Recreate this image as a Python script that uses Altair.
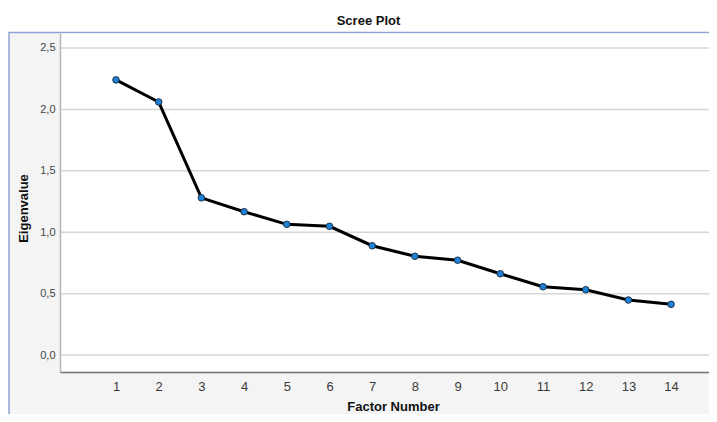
import altair as alt
import pandas as pd

factors = list(range(1, 15))
eigenvalues = [2.24, 2.06, 1.28, 1.167, 1.064, 1.048, 0.89, 0.804, 0.772, 0.662, 0.556, 0.532, 0.448, 0.413]
y_ticks = [0.0, 0.5, 1.0, 1.5, 2.0, 2.5]

W = 649
H = 339

df = pd.DataFrame({"factor": factors, "eigen": eigenvalues})
grid_df = pd.DataFrame({"tick": y_ticks})
one = pd.DataFrame({"k": [0]})

xscale = alt.Scale(domain=[-0.312, 14.888], nice=False, zero=False)
yscale = alt.Scale(domain=[-0.138, 2.622], nice=False, zero=False)

x_axis = alt.Axis(
    values=factors, title="Factor Number", grid=False, ticks=False,
    labelFont="Liberation Sans", labelFontSize=13, labelColor="#3a3a3a",
    labelPadding=8, domainColor="#707070", domainWidth=1.5,
    titleFont="Liberation Sans", titleFontSize=13, titleFontWeight="bold",
    titleColor="#111111", titleX=333, titleY=38, titleAlign="center",
    titleBaseline="alphabetic", zindex=1, labelFlush=False,
)
y_axis = alt.Axis(
    values=y_ticks, title="Eigenvalue", grid=False, ticks=False,
    labelExpr="replace(format(datum.value, '.1f'), '.', ',')",
    labelFont="Liberation Sans", labelFontSize=11, labelColor="#444444",
    labelPadding=5, domainColor="#b5b5b5", domainWidth=1.5,
    titleFont="Liberation Sans", titleFontSize=13, titleFontWeight="bold",
    titleColor="#111111", titleAngle=-90, titleX=-33, titleY=175,
    titleAlign="center", titleBaseline="alphabetic", zindex=1, labelFlush=False,
)

frame = alt.Chart(one).mark_rect(
    fill="#f4f4f4", stroke="#8ea2d6", strokeWidth=1.5
).encode(
    x=alt.value(-51), x2=alt.value(W + 20), y=alt.value(-0.5), y2=alt.value(H + 80)
)

plot_bg = alt.Chart(one).mark_rect(fill="white").encode(
    x=alt.value(0), x2=alt.value(W + 20), y=alt.value(0.5), y2=alt.value(H)
)

grid = alt.Chart(grid_df).mark_rule(color="#d6d6d6", strokeWidth=1.5).encode(
    y=alt.Y("tick:Q", scale=yscale, axis=y_axis),
    x=alt.value(0), x2=alt.value(W + 20),
)

line = alt.Chart(df).mark_line(color="black", strokeWidth=3).encode(
    x=alt.X("factor:Q", scale=xscale, axis=x_axis),
    y=alt.Y("eigen:Q", scale=yscale, axis=y_axis),
)

points = alt.Chart(df).mark_point(
    filled=True, fill="#1e80d6", stroke="#1a2a3a", strokeWidth=0.9, size=44, opacity=1
).encode(
    x=alt.X("factor:Q", scale=xscale),
    y=alt.Y("eigen:Q", scale=yscale),
)

chart = alt.layer(frame, plot_bg, grid, line, points).properties(
    width=W,
    height=H,
    title=alt.Title(
        "Scree Plot", font="Liberation Sans", fontSize=13, fontWeight="bold",
        color="#111111", anchor="middle", dx=-16, offset=4,
    ),
    autosize=alt.AutoSizeParams(type="none"),
    padding={"left": 52, "top": 25, "right": 0, "bottom": 42},
).configure_view(stroke=None).configure(background="white")

chart.save("out.html", embed_options={"renderer": "svg", "actions": False})
